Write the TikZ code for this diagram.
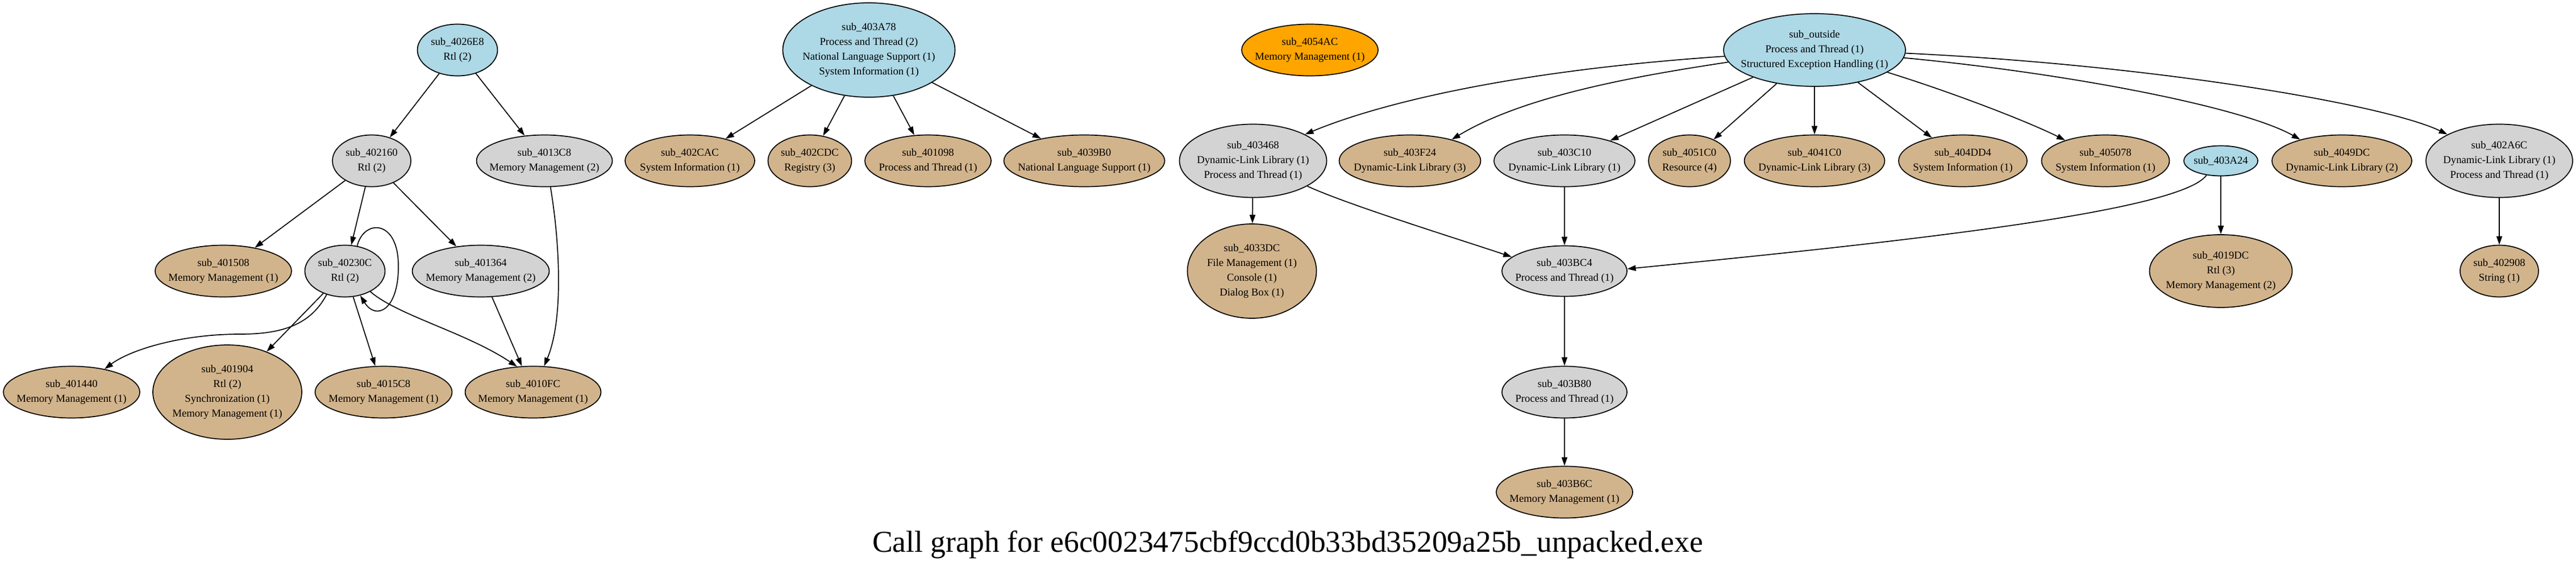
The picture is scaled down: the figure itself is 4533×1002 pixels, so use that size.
\documentclass[tikz,border=0pt]{standalone}
\usepackage{fontspec}
\setmainfont{Liberation Serif}
\usetikzlibrary{shapes.geometric,arrows.meta}
\definecolor{cblue}{HTML}{ADD8E6}
\definecolor{cgray}{HTML}{D3D3D3}
\definecolor{ctan}{HTML}{D2B48C}
\definecolor{corange}{HTML}{FFA500}
\newcommand{\nfont}{\fontsize{18.7}{26}\selectfont}
\tikzset{
  fn/.style={ellipse, draw=black, line width=1.7pt, inner sep=0pt},
  fblue/.style={fn, fill=cblue},
  fgray/.style={fn, fill=cgray},
  ftan/.style={fn, fill=ctan},
  forange/.style={fn, fill=corange},
  sz/.style 2 args={minimum width=#1pt, minimum height=#2pt},
  lbl/.style={align=center, font=\nfont, inner sep=0pt},
  edge/.style={-{Triangle[length=15pt,width=10pt]}, line width=1.7pt},
}
\begin{document}
\begin{tikzpicture}[x=1pt,y=-1pt]
\fill[white] (0,0) rectangle (4533,1002);
\useasboundingbox (0,0) rectangle (4533,1002);

% rank 0
\node[fblue, sz={141}{91}, label={[lbl]center:{sub\_4026E8\\Rtl (2)}}] (n4026E8) at (805,88) {};
\node[fblue, sz={303}{166}, label={[lbl]center:{sub\_403A78\\Process and Thread (2)\\National Language Support (1)\\System Information (1)}}] (n403A78) at (1529,88) {};
\node[forange, sz={240}{91}, label={[lbl]center:{sub\_4054AC\\Memory Management (1)}}] (n4054AC) at (2305,88) {};
\node[fblue, sz={320}{128}, label={[lbl]center:{sub\_outside\\Process and Thread (1)\\Structured Exception Handling (1)}}] (outside) at (3193,88) {};

% rank 1
\node[fgray, sz={138}{91}, label={[lbl]center:{sub\_402160\\Rtl (2)}}] (n402160) at (654,283) {};
\node[fgray, sz={239}{91}, label={[lbl]center:{sub\_4013C8\\Memory Management (2)}}] (n4013C8) at (958,283) {};
\node[ftan, sz={228}{91}, label={[lbl]center:{sub\_402CAC\\System Information (1)}}] (n402CAC) at (1214,283) {};
\node[ftan, sz={147}{91}, label={[lbl]center:{sub\_402CDC\\Registry (3)}}] (n402CDC) at (1425,283) {};
\node[ftan, sz={222}{91}, label={[lbl]center:{sub\_401098\\Process and Thread (1)}}] (n401098) at (1633,283) {};
\node[ftan, sz={283}{91}, label={[lbl]center:{sub\_4039B0\\National Language Support (1)}}] (n4039B0) at (1908,283) {};
\node[fgray, sz={259}{129}, label={[lbl]center:{sub\_403468\\Dynamic-Link Library (1)\\Process and Thread (1)}}] (n403468) at (2205,283) {};
\node[ftan, sz={249}{91}, label={[lbl]center:{sub\_403F24\\Dynamic-Link Library (3)}}] (n403F24) at (2481,283) {};
\node[fgray, sz={248}{91}, label={[lbl]center:{sub\_403C10\\Dynamic-Link Library (1)}}] (n403C10) at (2753,283) {};
\node[ftan, sz={144}{91}, label={[lbl]center:{sub\_4051C0\\Resource (4)}}] (n4051C0) at (2973,283) {};
\node[ftan, sz={247}{91}, label={[lbl]center:{sub\_4041C0\\Dynamic-Link Library (3)}}] (n4041C0) at (3193,283) {};
\node[ftan, sz={226}{91}, label={[lbl]center:{sub\_404DD4\\System Information (1)}}] (n404DD4) at (3454,283) {};
\node[ftan, sz={225}{91}, label={[lbl]center:{sub\_405078\\System Information (1)}}] (n405078) at (3705,283) {};
\node[fblue, sz={130}{53}, label={[lbl]center:{sub\_403A24}}] (n403A24) at (3908,283) {};
\node[ftan, sz={246}{91}, label={[lbl]center:{sub\_4049DC\\Dynamic-Link Library (2)}}] (n4049DC) at (4121,283) {};
\node[fgray, sz={258}{129}, label={[lbl]center:{sub\_402A6C\\Dynamic-Link Library (1)\\Process and Thread (1)}}] (n402A6C) at (4398,283) {};

% rank 2
\node[ftan, sz={240}{91}, label={[lbl]center:{sub\_401508\\Memory Management (1)}}] (n401508) at (393,477) {};
\node[fgray, sz={141}{91}, label={[lbl]center:{sub\_40230C\\Rtl (2)}}] (n40230C) at (607,477) {};
\node[fgray, sz={241}{91}, label={[lbl]center:{sub\_401364\\Memory Management (2)}}] (n401364) at (846,477) {};
\node[ftan, sz={227}{166}, label={[lbl]center:{sub\_4033DC\\File Management (1)\\Console (1)\\Dialog Box (1)}}] (n4033DC) at (2203,477) {};
\node[fgray, sz={220}{89}, label={[lbl]center:{sub\_403BC4\\Process and Thread (1)}}] (n403BC4) at (2753,477) {};
\node[ftan, sz={251}{128}, label={[lbl]center:{sub\_4019DC\\Rtl (3)\\Memory Management (2)}}] (n4019DC) at (3908,477) {};
\node[ftan, sz={138}{91}, label={[lbl]center:{sub\_402908\\String (1)}}] (n402908) at (4398,477) {};

% rank 3
\node[ftan, sz={240}{91}, label={[lbl]center:{sub\_401440\\Memory Management (1)}}] (n401440) at (126,690) {};
\node[ftan, sz={262}{166}, label={[lbl]center:{sub\_401904\\Rtl (2)\\Synchronization (1)\\Memory Management (1)}}] (n401904) at (400,690) {};
\node[ftan, sz={241}{91}, label={[lbl]center:{sub\_4015C8\\Memory Management (1)}}] (n4015C8) at (675,690) {};
\node[ftan, sz={239}{91}, label={[lbl]center:{sub\_4010FC\\Memory Management (1)}}] (n4010FC) at (938,690) {};
\node[fgray, sz={220}{91}, label={[lbl]center:{sub\_403B80\\Process and Thread (1)}}] (n403B80) at (2753,690) {};

% rank 4
\node[ftan, sz={240}{91}, label={[lbl]center:{sub\_403B6C\\Memory Management (1)}}] (n403B6C) at (2753,866) {};

% title
\node[anchor=base, inner sep=0pt, font=\fontsize{53.5}{60}\selectfont] (title) at (2266,971) {Call graph for e6c0023475cbf9ccd0b33bd35209a25b\_unpacked.exe};

% edges, left cluster
\draw[edge] (n4026E8) -- (n402160);
\draw[edge] (n4026E8) -- (n4013C8);
\draw[edge] (n402160) -- (n401508);
\draw[edge] (n402160) -- (n40230C);
\draw[edge] (n402160) -- (n401364);
\draw[edge] (n40230C.64) .. controls (640,385) and (702,385) .. (701,470) .. controls (701,545) and (662,565) .. (n40230C.-58);
\draw[edge] (n40230C.232) .. controls (545,575) and (490,588) .. (421,588) .. controls (320,588) and (230,615) .. (n401440.35);
\draw[edge] (n40230C) -- (n401904);
\draw[edge] (n40230C) -- (n4015C8);
\draw[edge] (n40230C.-39) .. controls (700,555) and (820,585) .. (n4010FC.122);
\draw[edge] (n401364) -- (n4010FC);
\draw[edge] (n4013C8.-77) .. controls (984,420) and (993,560) .. (n4010FC.67);

% 403A78
\draw[edge] (n403A78) -- (n402CAC);
\draw[edge] (n403A78) -- (n402CDC);
\draw[edge] (n403A78) -- (n401098);
\draw[edge] (n403A78) -- (n4039B0);

% sub_outside
\draw[edge] (outside.184) .. controls (2650,125) and (2420,185) .. (n403468.27);
\draw[edge] (outside.188) .. controls (2870,135) and (2680,170) .. (n403F24.27);
\draw[edge] (outside) -- (n403C10);
\draw[edge] (outside) -- (n4051C0);
\draw[edge] (outside) -- (n4041C0);
\draw[edge] (outside) -- (n404DD4);
\draw[edge] (outside.-17) .. controls (3446,166) and (3575,217) .. (n405078.153);
\draw[edge] (outside.-5) .. controls (3650,130) and (3950,190) .. (n4049DC.153);
\draw[edge] (outside.-2) .. controls (3800,115) and (4200,185) .. (n402A6C.153);

% lower right
\draw[edge] (n403468) -- (n4033DC);
\draw[edge] (n403468.-25) .. controls (2370,360) and (2580,425) .. (n403BC4.165);
\draw[edge] (n403C10) -- (n403BC4);
\draw[edge] (n403A24.225) .. controls (3835,375) and (3300,430) .. (n403BC4.2.5);
\draw[edge] (n403A24) -- (n4019DC);
\draw[edge] (n402A6C) -- (n402908);
\draw[edge] (n403BC4) -- (n403B80);
\draw[edge] (n403B80) -- (n403B6C);
\end{tikzpicture}
\end{document}
